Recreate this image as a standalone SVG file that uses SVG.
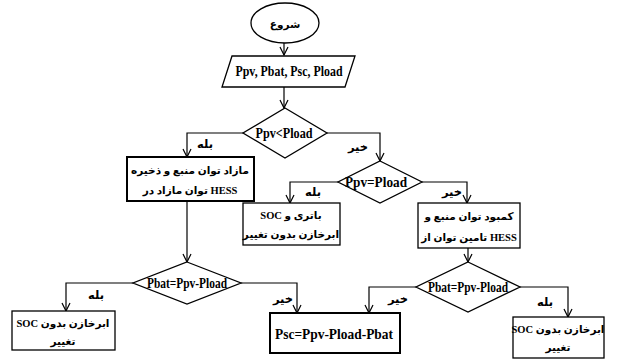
<svg xmlns="http://www.w3.org/2000/svg" width="622" height="361" viewBox="0 0 622 361">
<defs>
<marker id="arr" markerWidth="10" markerHeight="10" refX="9" refY="5" orient="auto" markerUnits="userSpaceOnUse">
<path d="M1,1 L9,5 L1,9" fill="none" stroke="#000" stroke-width="1.2"/>
</marker>
</defs>
<style>
.shape{fill:#fff;stroke:#000;stroke-width:1.3}
.thick{stroke-width:2}
.ln{fill:none;stroke:#000;stroke-width:1.2;marker-end:url(#arr)}
.lt{font-family:"Liberation Serif","Times New Roman",serif;font-weight:bold;font-size:14px;text-anchor:middle;fill:#000}
.fa{font-family:"Liberation Serif","DejaVu Sans",sans-serif;font-weight:bold;font-size:10.5px;text-anchor:middle;fill:#000}
.lab{font-family:"DejaVu Sans",sans-serif;font-weight:bold;font-size:11.5px;text-anchor:middle;fill:#000}
</style>
<rect width="622" height="361" fill="#fff"/>
<g id="connectors">
<path class="ln" d="M284,43 V55"/>
<path class="ln" d="M284,87 V108"/>
<path class="ln" d="M243,133 H187 V157"/>
<path class="ln" d="M327,133 H380 V161"/>
<path class="ln" d="M338,182 H290 V203"/>
<path class="ln" d="M422,182 H467 V203"/>
<path class="ln" d="M187,201 V262"/>
<path class="ln" d="M468,248 V262"/>
<path class="ln" d="M133,283 H66 V311"/>
<path class="ln" d="M241,283 H297 V313"/>
<path class="ln" d="M416,287 H369 V313"/>
<path class="ln" d="M520,287 H568 V317"/>
<text class="lab" x="205" y="148">بله</text>
<text class="lab" x="358" y="151">خیر</text>
<text class="lab" x="313" y="196">بله</text>
<text class="lab" x="452" y="196">خیر</text>
<text class="lab" x="96" y="299">بله</text>
<text class="lab" x="283" y="303">خیر</text>
<text class="lab" x="398" y="303">خیر</text>
<text class="lab" x="545" y="306">بله</text>
</g>
<g id="start">
<ellipse class="shape" cx="285" cy="23" rx="34" ry="20"/>
<text class="fa" x="285" y="28" font-size="14">شروع</text>
</g>
<g id="input">
<polygon class="shape" points="232,56 355,56 345,87 222,87"/>
<text class="lt" x="289" y="76" textLength="107" lengthAdjust="spacingAndGlyphs">Ppv, Pbat, Psc, Pload</text>
</g>
<g id="dec1">
<polygon class="shape" points="285,108 327,133 285,158 243,133"/>
<text class="lt" x="284" y="138" textLength="57" lengthAdjust="spacingAndGlyphs">Ppv&lt;Pload</text>
</g>
<g id="box-surplus">
<rect class="shape thick" x="127" y="157" width="127" height="44"/>
<text class="fa" x="190" y="174">مازاد توان منبع و ذخیره</text>
<text class="fa" x="190" y="194">توان مازاد در HESS</text>
</g>
<g id="dec2">
<polygon class="shape" points="380,161 422,182 380,203 338,182"/>
<text class="lt" x="376" y="187" textLength="62" lengthAdjust="spacingAndGlyphs">Ppv=Pload</text>
</g>
<g id="box-unchanged">
<rect class="shape" x="243" y="203" width="97" height="42"/>
<text class="fa" x="291" y="219">SOC باتری و</text>
<text class="fa" x="291" y="238">ابرخازن بدون تغییر</text>
</g>
<g id="box-deficit">
<rect class="shape" x="418" y="203" width="102" height="45"/>
<text class="fa" x="469" y="220">کمبود توان منبع و</text>
<text class="fa" x="469" y="241">تامین توان از HESS</text>
</g>
<g id="dec3">
<polygon class="shape" points="187,262 241,283 187,304 133,283"/>
<text class="lt" x="187" y="288" font-size="13" textLength="80" lengthAdjust="spacingAndGlyphs">Pbat=Ppv-Pload</text>
</g>
<g id="dec4">
<polygon class="shape" points="468,262 520,287 468,312 416,287"/>
<text class="lt" x="468" y="292" font-size="13" textLength="80" lengthAdjust="spacingAndGlyphs">Pbat=Ppv-Pload</text>
</g>
<g id="box-sc-left">
<rect class="shape" x="12" y="311" width="103" height="39"/>
<text class="fa" x="63" y="327">SOC ابرخازن بدون</text>
<text class="fa" x="63" y="345">تغییر</text>
</g>
<g id="box-psc">
<rect class="shape thick" x="270" y="313" width="130" height="40"/>
<text class="lt" x="334" y="339" font-size="15" textLength="118" lengthAdjust="spacingAndGlyphs">Psc=Ppv-Pload-Pbat</text>
</g>
<g id="box-sc-right">
<rect class="shape" x="513" y="317" width="91" height="41"/>
<text class="fa" x="558" y="333">SOC ابرخازن بدون</text>
<text class="fa" x="558" y="351">تغییر</text>
</g>
</svg>
